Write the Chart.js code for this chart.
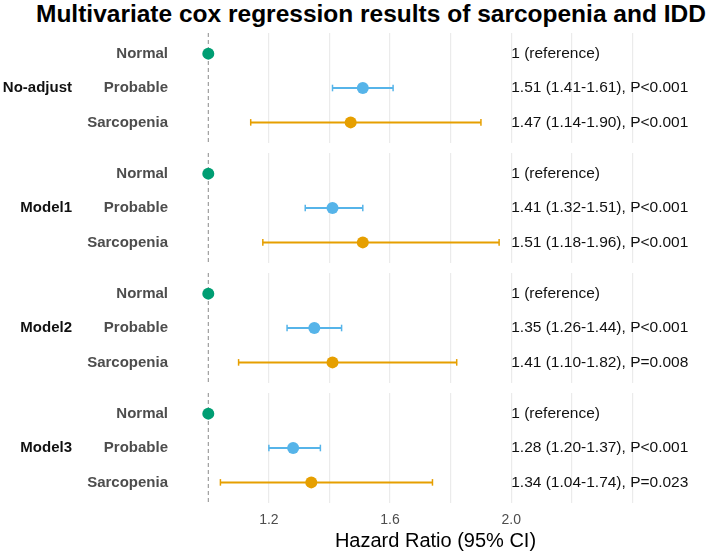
<!DOCTYPE html>
<html>
<head>
<meta charset="utf-8">
<script src="https://cdn.jsdelivr.net/npm/chart.js@4.4.1/dist/chart.umd.min.js"></script>
<style>
  html, body { margin: 0; padding: 0; background: #fff; }
  body { width: 709px; height: 554px; position: relative; overflow: hidden;
         font-family: "Liberation Sans", Arial, sans-serif; }
  #title { position: absolute; top: 2px; left: 36px; white-space: nowrap;
           font-weight: bold; font-size: 24.5px; line-height: 1; color: #000; }
  .panel { position: absolute; left: 0; width: 709px; }
</style>
</head>
<body>
<div id="title">Multivariate cox regression results of sarcopenia and IDD</div>
<div class="panel" style="top:33px;height:110px"><canvas id="p0" width="709" height="110"></canvas></div>
<div class="panel" style="top:153px;height:110px"><canvas id="p1" width="709" height="110"></canvas></div>
<div class="panel" style="top:273px;height:110px"><canvas id="p2" width="709" height="110"></canvas></div>
<div class="panel" style="top:393px;height:161px"><canvas id="p3" width="709" height="161"></canvas></div>

<script>
// data
const groups    = ["No-adjust", "Model1", "Model2", "Model3"];
const rowNames  = ["Normal", "Probable", "Sarcopenia"];
const rowColors = ["#009E73", "#56B4E9", "#E69F00"];

const hr    = [[1, 1.51, 1.47], [1, 1.41, 1.51], [1, 1.35, 1.41], [1, 1.28, 1.34]];
const lower = [[null, 1.41, 1.14], [null, 1.32, 1.18], [null, 1.26, 1.10], [null, 1.20, 1.04]];
const upper = [[null, 1.61, 1.90], [null, 1.51, 1.96], [null, 1.44, 1.82], [null, 1.37, 1.74]];

const hrText = [
  ["1 (reference)", "1.51 (1.41-1.61), P<0.001", "1.47 (1.14-1.90), P<0.001"],
  ["1 (reference)", "1.41 (1.32-1.51), P<0.001", "1.51 (1.18-1.96), P<0.001"],
  ["1 (reference)", "1.35 (1.26-1.44), P<0.001", "1.41 (1.10-1.82), P=0.008"],
  ["1 (reference)", "1.28 (1.20-1.37), P<0.001", "1.34 (1.04-1.74), P=0.023"],
];

const refValue   = 1;
const textX      = 2.0;
const gridTicks  = [1.0, 1.2, 1.4, 1.6, 1.8, 2.0, 2.2, 2.4];
const tickLabels = [1.2, 1.6, 2.0];

Chart.defaults.font.family = '"Liberation Sans", Arial, sans-serif';

/** Draws the HR text column and the group label of one panel */
const textPlugin = {
  id: "hrText",
  afterDatasetsDraw(chart) {
    const p = chart.options.plugins.hrText.panel;
    const { ctx, scales: { x, y } } = chart;
    ctx.save();
    ctx.textBaseline = "middle";
    ctx.fillStyle = "#111";
    ctx.font = '15.5px "Liberation Sans", Arial, sans-serif';
    ctx.textAlign = "left";
    hrText[p].forEach((t, i) => ctx.fillText(t, x.getPixelForValue(textX), y.getPixelForValue(i)));
    ctx.font = 'bold 15px "Liberation Sans", Arial, sans-serif';
    ctx.textAlign = "right";
    ctx.fillText(groups[p], 72, y.getPixelForValue(1));
    ctx.restore();
  },
};

/** Build one facet panel */
function makePanel(p) {
  const last = p === groups.length - 1;
  const datasets = [];

  datasets.push({
    data: [{ x: refValue, y: -0.6 }, { x: refValue, y: 2.6 }],
    showLine: true,
    borderColor: "#8a8a8a",
    borderWidth: 1,
    borderDash: [4, 3],
    pointRadius: 0,
    order: 3,
  });

  rowNames.forEach((_, i) => {
    if (lower[p][i] == null) return;
    datasets.push({
      data: [{ x: lower[p][i], y: i }, { x: upper[p][i], y: i }],
      showLine: true,
      borderColor: rowColors[i],
      borderWidth: 2,
      pointStyle: "line",
      rotation: 90,
      pointRadius: 3.3,
      pointBorderColor: rowColors[i],
      pointBorderWidth: 1.5,
      order: 2,
    });
  });

  datasets.push({
    data: hr[p].map((v, i) => ({ x: v, y: i })),
    pointBackgroundColor: rowColors,
    pointBorderWidth: 0,
    pointRadius: 6,
    order: 1,
  });

  new Chart(document.getElementById("p" + p), {
    type: "scatter",
    data: { datasets },
    plugins: [textPlugin],
    options: {
      responsive: false,
      animation: false,
      events: [],
      layout: { autoPadding: false, padding: { left: 0, right: 16, top: 0, bottom: 0 } },
      plugins: {
        legend: { display: false },
        tooltip: { enabled: false },
        hrText: { panel: p },
      },
      scales: {
        x: {
          type: "linear",
          min: 0.9,
          max: 2.6,
          afterBuildTicks: (s) => { s.ticks = gridTicks.map(v => ({ value: v })); },
          afterFit: (s) => { s.height = last ? 51 : 0; s.paddingLeft = 0; s.paddingRight = 0; },
          border: { display: false },
          grid: {
            drawTicks: false,
            color: (c) => (c.tick && Math.abs(c.tick.value - refValue) < 1e-6) ? "rgba(0,0,0,0)" : "#ebebeb",
            lineWidth: 1.2,
          },
          ticks: {
            display: last,
            padding: 9,
            color: "#4d4d4d",
            font: { size: 14 },
            maxRotation: 0,
            autoSkip: false,
            callback: (v) => tickLabels.some(t => Math.abs(t - v) < 1e-6) ? v.toFixed(1) : "",
          },
          title: {
            display: last,
            text: "Hazard Ratio (95% CI)",
            color: "#000",
            font: { size: 20 },
            padding: { top: 0, bottom: 1 },
          },
        },
        y: {
          type: "linear",
          min: -0.6,
          max: 2.6,
          reverse: true,
          afterBuildTicks: (s) => { s.ticks = rowNames.map((_, i) => ({ value: i })); },
          afterFit: (s) => { s.width = 178; s.paddingTop = 0; s.paddingBottom = 0; },
          border: { display: false },
          grid: { display: false, drawTicks: false },
          ticks: {
            padding: 10,
            color: "#4d4d4d",
            font: { size: 15, weight: "bold" },
            callback: (v) => rowNames[v] ?? "",
          },
        },
      },
    },
  });
}

groups.forEach((_, p) => makePanel(p));
</script>
</body>
</html>
